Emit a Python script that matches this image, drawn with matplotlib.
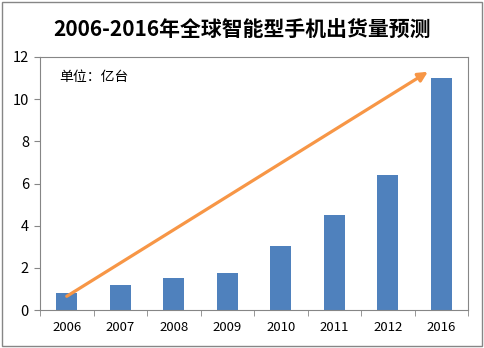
import matplotlib.pyplot as plt
from matplotlib.patches import Rectangle

plt.rcParams['font.family'] = ['Noto Sans CJK SC', 'DejaVu Sans']

years = ['2006', '2007', '2008', '2009', '2010', '2011', '2012', '2016']
shipments = [0.8, 1.18, 1.5, 1.75, 3.02, 4.5, 6.4, 11.0]
arrow_start = (0, 0.65)
arrow_end = (6.75, 11.3)

fig = plt.figure(figsize=(4.84, 3.48), dpi=100)
ax = fig.add_axes([40 / 484, 38 / 348, 428 / 484, 253 / 348])

x = range(len(years))
ax.bar(x, shipments, width=0.4, color='#4F81BD', zorder=2)

ax.set_xlim(-0.5, len(years) - 0.5)
ax.set_ylim(0, 12)
ax.set_yticks(range(0, 13, 2))
ax.set_xticks(list(x))
ax.set_xticklabels(years)
ax.set_xticks([i + 0.5 for i in range(-1, len(years))], minor=True)
ax.tick_params(axis='x', which='major', length=0, labelsize=9.5, pad=8)
ax.tick_params(axis='x', which='minor', length=4, color='#868686', direction='out')
ax.tick_params(axis='y', length=4, color='#868686', labelsize=10.5, pad=4)
for s in ax.spines.values():
    s.set_color('#868686')
    s.set_linewidth(0.8)

ax.annotate('', xy=arrow_end, xytext=arrow_start,
            arrowprops=dict(arrowstyle='-|>', color='#F79646', lw=2.3,
                            mutation_scale=14, shrinkA=0, shrinkB=0),
            zorder=3)

ax.text(0.045, 0.92, '单位：亿台', transform=ax.transAxes, fontsize=10, va='center')

fig.text(0.5, 1 - 30 / 348, '2006-2016年全球智能型手机出货量预测',
         ha='center', va='center', fontsize=15, fontweight='bold')

fig.patches.append(Rectangle((2 / 484, 2 / 348), 480 / 484, 344 / 348,
                             transform=fig.transFigure, fill=False,
                             edgecolor='#868686', linewidth=1))

fig.savefig('out.png', dpi=100)
